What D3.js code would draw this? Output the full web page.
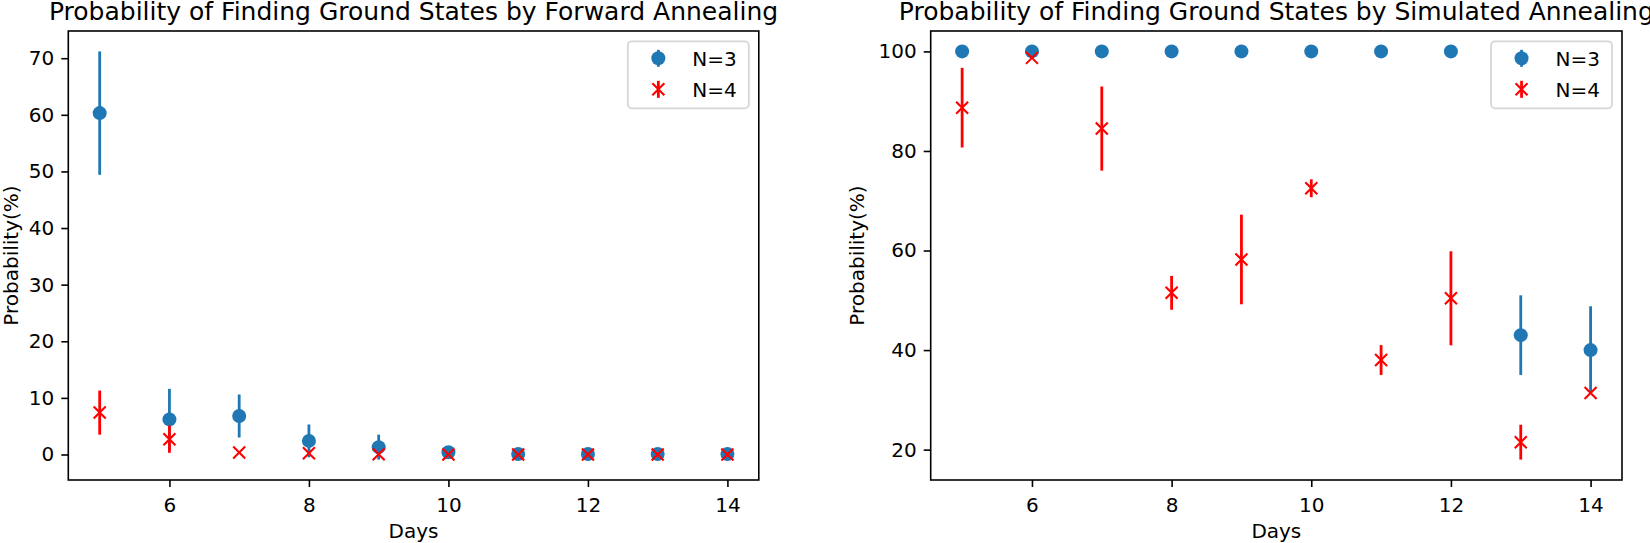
<!DOCTYPE html>
<html>
<head>
<meta charset="utf-8">
<script src="https://cdn.jsdelivr.net/npm/d3@7"></script>
<style>
  html, body { margin: 0; padding: 0; background: #fff; }
  svg { display: block; font-family: "DejaVu Sans", sans-serif; }
</style>
</head>
<body>
<svg id="chart" width="1650" height="543"></svg>
<script>
// ---------------- data ----------------
const days = [5, 6, 7, 8, 9, 10, 11, 12, 13, 14];

// Forward annealing
const faN3 = [60.3, 6.2, 6.8, 2.4, 1.3, 0.4, 0.1, 0.1, 0.1, 0.1];
const faN3Err = [10.9, 5.4, 3.8, 2.9, 2.2, 0.4, 0, 0, 0, 0];
const faN4 = [7.4, 2.7, 0.35, 0.2, 0.05, 0, 0, 0, 0, 0];
const faN4Err = [3.9, 2.4, 0, 0, 0, 0, 0, 0, 0, 0];

// Simulated annealing
const saN3 = [100, 100, 100, 100, 100, 100, 100, 100, 43, 40];
const saN3Err = [0, 0, 0, 0, 0, 0, 0, 0, 8, 8.8];
const saN4 = [88.7, 98.7, 84.5, 51.5, 58.2, 72.5, 38.0, 50.4, 21.5, 31.4];
const saN4Err = [8, 0, 8.45, 3.4, 9.0, 1.8, 3.0, 9.45, 3.5, 0];

const xTicks = [6, 8, 10, 12, 14];
const faYTicks = [0, 10, 20, 30, 40, 50, 60, 70];
const saYTicks = [20, 40, 60, 80, 100];

const titles = [
  "Probability of Finding Ground States by Forward Annealing",
  "Probability of Finding Ground States by Simulated Annealing"
];
const xLabel = "Days";
const yLabel = "Probability(%)";
const seriesNames = ["N=3", "N=4"];
const colors = ["#1f77b4", "#ff0000"];

// ---------------- drawing ----------------
const svg = d3.select("#chart");

function padDomain(lo, hi) {
  const m = (hi - lo) * 0.05;
  return [lo - m, hi + m];
}

function drawPanel(cfg) {
  const { x0, x1, y0, y1, s3, e3, s4, e4, yTicks, title, ylabX } = cfg;
  const g = svg.append("g");

  const xs = d3.scaleLinear().domain(padDomain(d3.min(days), d3.max(days))).range([x0, x1]);
  const all = [];
  [[s3, e3], [s4, e4]].forEach(([v, e]) => v.forEach((d, i) => { all.push(d - e[i]); all.push(d + e[i]); }));
  const ys = d3.scaleLinear().domain(padDomain(d3.min(all), d3.max(all))).range([y1, y0]);

  // series
  const series = [
    { v: s3, e: e3, color: colors[0], marker: "o" },
    { v: s4, e: e4, color: colors[1], marker: "x" }
  ];
  series.forEach(s => {
    const sg = g.append("g");
    sg.selectAll("line.err").data(days).enter().append("line")
      .attr("x1", d => xs(d)).attr("x2", d => xs(d))
      .attr("y1", (d, i) => ys(s.v[i] - s.e[i]))
      .attr("y2", (d, i) => ys(s.v[i] + s.e[i]))
      .attr("stroke", s.color).attr("stroke-width", 2.8);
    if (s.marker === "o") {
      sg.selectAll("circle").data(days).enter().append("circle")
        .attr("cx", d => xs(d)).attr("cy", (d, i) => ys(s.v[i]))
        .attr("r", 7).attr("fill", s.color);
    } else {
      const h = 6;
      sg.selectAll("path.mk").data(days).enter().append("path")
        .attr("d", (d, i) => {
          const cx = xs(d), cy = ys(s.v[i]);
          return `M${cx - h},${cy - h}L${cx + h},${cy + h}M${cx - h},${cy + h}L${cx + h},${cy - h}`;
        })
        .attr("stroke", s.color).attr("stroke-width", 2.1).attr("fill", "none");
    }
  });

  // axes
  const xa = g.append("g").attr("transform", `translate(0,${y1})`)
    .call(d3.axisBottom(xs).tickValues(xTicks).tickSize(7).tickPadding(7).tickSizeOuter(0));
  const ya = g.append("g").attr("transform", `translate(${x0},0)`)
    .call(d3.axisLeft(ys).tickValues(yTicks).tickSize(7).tickPadding(7).tickSizeOuter(0));
  [xa, ya].forEach(a => {
    a.select(".domain").remove();
    a.selectAll(".tick line").attr("stroke", "#000").attr("stroke-width", 1.6);
    a.selectAll(".tick text").attr("fill", "#000").style("font-size", "20px")
      .style("font-family", "DejaVu Sans, sans-serif");
  });
  xa.selectAll(".tick text").attr("dy", null).attr("y", 31.5).attr("dominant-baseline", "alphabetic");

  // frame
  g.append("rect").attr("x", x0).attr("y", y0).attr("width", x1 - x0).attr("height", y1 - y0)
    .attr("fill", "none").attr("stroke", "#000").attr("stroke-width", 1.6);

  // title
  g.append("text").attr("x", (x0 + x1) / 2).attr("y", 20).attr("text-anchor", "middle")
    .style("font-size", "25px").attr("fill", "#000").text(title);
  // x label
  g.append("text").attr("x", (x0 + x1) / 2).attr("y", 538).attr("text-anchor", "middle")
    .style("font-size", "20px").attr("fill", "#000").text(xLabel);
  // y label
  g.append("text").attr("transform", `translate(${ylabX},${(y0 + y1) / 2}) rotate(-90)`)
    .attr("text-anchor", "middle").style("font-size", "20px").attr("fill", "#000").text(yLabel);

  // legend
  const lg = g.append("g");
  const texts = seriesNames.map(n => n);
  const tmp = lg.append("text").style("font-size", "20px").text(texts[0]);
  const tw = tmp.node().getComputedTextLength();
  tmp.remove();
  const lw = 64.5 + tw + 12;
  const lx = x1 - 10 - lw, ly = y0 + 10.3, lh = 67;
  lg.append("rect").attr("x", lx).attr("y", ly).attr("width", lw).attr("height", lh)
    .attr("rx", 4).attr("ry", 4).attr("fill", "#fff").attr("fill-opacity", 0.8)
    .attr("stroke", "#d6d6d6").attr("stroke-width", 1.8);
  const rows = [ly + 17, ly + 48];
  const mx = lx + 30.5;
  // N=3 handle
  lg.append("line").attr("x1", mx).attr("x2", mx).attr("y1", rows[0] - 8.5).attr("y2", rows[0] + 8.5)
    .attr("stroke", colors[0]).attr("stroke-width", 2.8);
  lg.append("circle").attr("cx", mx).attr("cy", rows[0]).attr("r", 7).attr("fill", colors[0]);
  // N=4 handle
  lg.append("line").attr("x1", mx).attr("x2", mx).attr("y1", rows[1] - 8.5).attr("y2", rows[1] + 8.5)
    .attr("stroke", colors[1]).attr("stroke-width", 2.8);
  lg.append("path").attr("d", `M${mx - 6},${rows[1] - 6}L${mx + 6},${rows[1] + 6}M${mx - 6},${rows[1] + 6}L${mx + 6},${rows[1] - 6}`)
    .attr("stroke", colors[1]).attr("stroke-width", 2.1).attr("fill", "none");
  texts.forEach((t, i) => {
    lg.append("text").attr("x", lx + 64.5).attr("y", rows[i]).attr("dy", "0.36em")
      .style("font-size", "20px").attr("fill", "#000").text(t);
  });
}

drawPanel({ x0: 68.3, x1: 758.8, y0: 31, y1: 480, s3: faN3, e3: faN3Err, s4: faN4, e4: faN4Err,
  yTicks: faYTicks, title: titles[0], ylabX: 17.5 });
drawPanel({ x0: 930.7, x1: 1622, y0: 31, y1: 480, s3: saN3, e3: saN3Err, s4: saN4, e4: saN4Err,
  yTicks: saYTicks, title: titles[1], ylabX: 863.5 });
</script>
</body>
</html>
